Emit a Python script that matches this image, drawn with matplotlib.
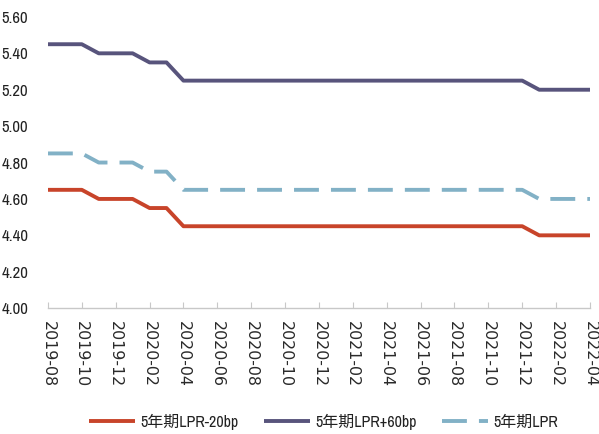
import numpy as np
import pandas as pd
import matplotlib
matplotlib.use("Agg")
import matplotlib.pyplot as plt

narrow = ['Archivo Narrow', 'Noto Sans CJK SC', 'DejaVu Sans']
plt.rcParams['font.family'] = narrow

# monthly 5-year LPR, 2019-08 .. 2022-04
months = pd.period_range("2019-08", "2022-04", freq="M").strftime("%Y-%m").tolist()
lpr_5y = ([4.85] * 3 + [4.80] * 3 + [4.75] * 2 + [4.65] * 21 + [4.60] * 4)
lpr_minus_20 = [round(v - 0.20, 2) for v in lpr_5y]
lpr_plus_60 = [round(v + 0.60, 2) for v in lpr_5y]

labels = ["5年期LPR-20bp", "5年期LPR+60bp", "5年期LPR"]
colors = ["#C8442A", "#58547C", "#82B1C6"]

fig = plt.figure(figsize=(5.99, 4.34), dpi=100)
ax = fig.add_axes([0.08, 0.29, 0.905, 0.671])

x = np.arange(len(months))
ax.plot(x, lpr_minus_20, color=colors[0], lw=2.8, label=labels[0], solid_capstyle='butt')
ax.plot(x, lpr_plus_60, color=colors[1], lw=2.8, label=labels[1], solid_capstyle='butt')
ax.plot(x, lpr_5y, color=colors[2], lw=2.8, label=labels[2], dashes=(6.4, 3.1),
        dash_capstyle='butt')

ax.set_ylim(4.0, 5.6)
ax.set_yticks(np.arange(4.0, 5.61, 0.2))
ax.yaxis.set_major_formatter(matplotlib.ticker.FormatStrFormatter("%.2f"))
ax.set_xlim(0, len(months) - 1)
ax.set_xticks(x[::2])
ax.set_xticklabels(months[::2])

for s in ["top", "right", "left"]:
    ax.spines[s].set_visible(False)
ax.spines["bottom"].set_color("#C8C8C8")
ax.spines["bottom"].set_linewidth(1.0)
ax.tick_params(axis="x", direction="in", length=4, color="#C8C8C8", pad=9)
ax.tick_params(axis="y", length=0, pad=14, labelsize=12, labelcolor="#222222")

for t in ax.get_xticklabels():
    t.set_rotation(-90)
    t.set_fontfamily("DejaVu Sans")
    t.set_fontsize(11.4)
    t.set_color("#2a2a2a")

fig.legend(loc="center", bbox_to_anchor=(0.54, 0.028), ncol=3, frameon=False,
           fontsize=11.5, handlelength=2.9, columnspacing=1.6, handletextpad=0.3,
           labelcolor="#222222")

fig.savefig("out.png", dpi=100)
